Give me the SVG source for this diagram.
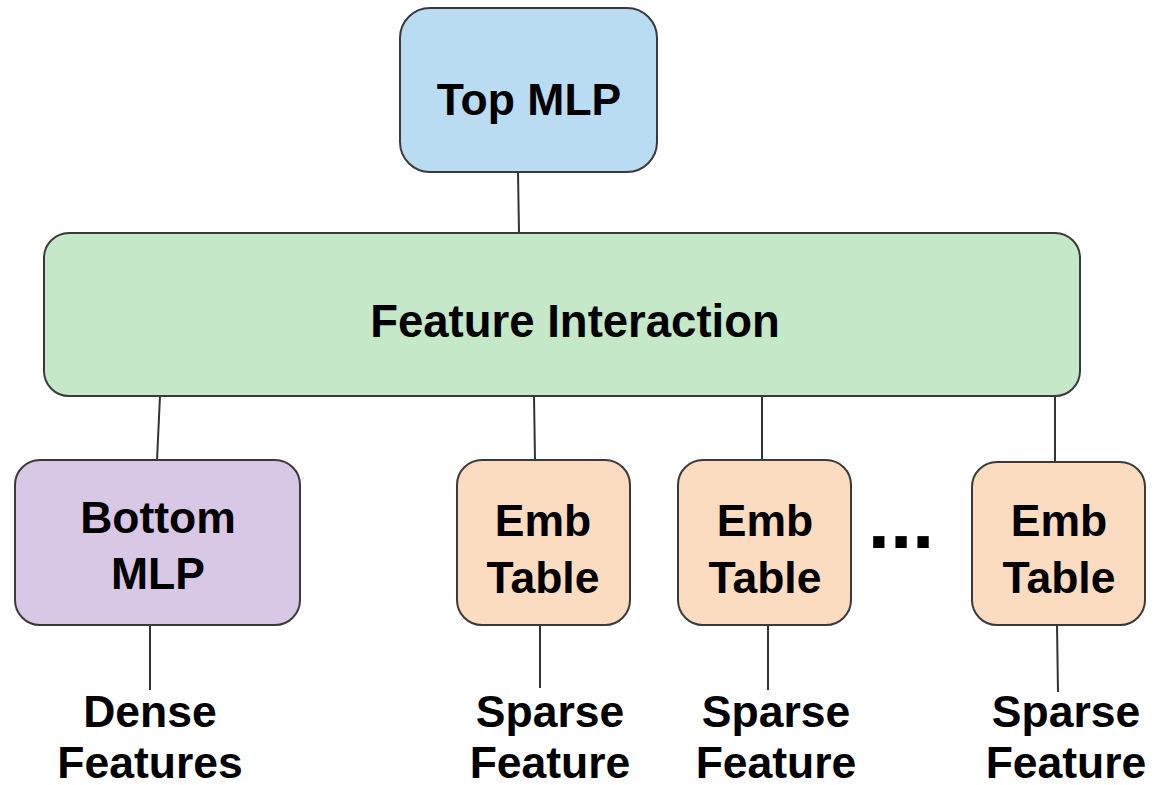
<svg xmlns="http://www.w3.org/2000/svg" width="1153" height="785" viewBox="0 0 1153 785">
  <defs>
    <style>
      .box { stroke: #3a3a3a; stroke-width: 2; }
      .top { fill: #badcf2; }
      .inter { fill: #c5e8c9; }
      .bottom { fill: #d9c8e5; }
      .emb { fill: #fcdcc0; }
      .lbl { font-family: "Liberation Sans", Arial, sans-serif; font-weight: bold; font-size: 44.5px; fill: #000; text-anchor: middle; }
      .wire { stroke: #333; stroke-width: 2; fill: none; }
    </style>
  </defs>
  <rect width="1153" height="785" fill="#ffffff"/>

  <!-- connectors -->
  <g id="connectors">
    <line class="wire" x1="518" y1="172" x2="519" y2="233"/>
    <line class="wire" x1="160" y1="396" x2="157" y2="460"/>
    <line class="wire" x1="534" y1="396" x2="535" y2="460"/>
    <line class="wire" x1="762" y1="396" x2="762" y2="460"/>
    <line class="wire" x1="1055" y1="396" x2="1055" y2="462"/>
    <line class="wire" x1="150" y1="625" x2="150" y2="690"/>
    <line class="wire" x1="540" y1="625" x2="540" y2="688"/>
    <line class="wire" x1="768" y1="625" x2="768" y2="690"/>
    <line class="wire" x1="1057" y1="625" x2="1058" y2="692"/>
  </g>

  <g id="top-mlp">
    <rect class="box top" x="400" y="8" width="257" height="164" rx="30"/>
    <text class="lbl" x="529" y="115">Top MLP</text>
  </g>

  <g id="feature-interaction">
    <rect class="box inter" x="44" y="233" width="1036" height="163" rx="25"/>
    <text class="lbl" x="575" y="337" style="font-size:45.5px">Feature Interaction</text>
  </g>

  <g id="bottom-mlp">
    <rect class="box bottom" x="15" y="460" width="285" height="165" rx="25"/>
    <text class="lbl" x="158" y="533">Bottom</text>
    <text class="lbl" x="158" y="589">MLP</text>
  </g>

  <g id="emb-table-1">
    <rect class="box emb" x="457" y="460" width="173" height="165" rx="25"/>
    <text class="lbl" x="543" y="536">Emb</text>
    <text class="lbl" x="543" y="593">Table</text>
  </g>

  <g id="emb-table-2">
    <rect class="box emb" x="678" y="460" width="173" height="165" rx="25"/>
    <text class="lbl" x="765" y="536">Emb</text>
    <text class="lbl" x="765" y="593">Table</text>
  </g>

  <g id="ellipsis">
    <text class="lbl" x="901" y="548" style="font-size:80px">...</text>
  </g>

  <g id="emb-table-3">
    <rect class="box emb" x="972" y="462" width="173" height="163" rx="25"/>
    <text class="lbl" x="1059" y="536">Emb</text>
    <text class="lbl" x="1059" y="593">Table</text>
  </g>

  <g id="dense-features">
    <text class="lbl" x="150" y="727">Dense</text>
    <text class="lbl" x="150" y="778">Features</text>
  </g>

  <g id="sparse-feature-1">
    <text class="lbl" x="550" y="727">Sparse</text>
    <text class="lbl" x="550" y="778">Feature</text>
  </g>

  <g id="sparse-feature-2">
    <text class="lbl" x="776" y="727">Sparse</text>
    <text class="lbl" x="776" y="778">Feature</text>
  </g>

  <g id="sparse-feature-3">
    <text class="lbl" x="1066" y="727">Sparse</text>
    <text class="lbl" x="1066" y="778">Feature</text>
  </g>
</svg>
